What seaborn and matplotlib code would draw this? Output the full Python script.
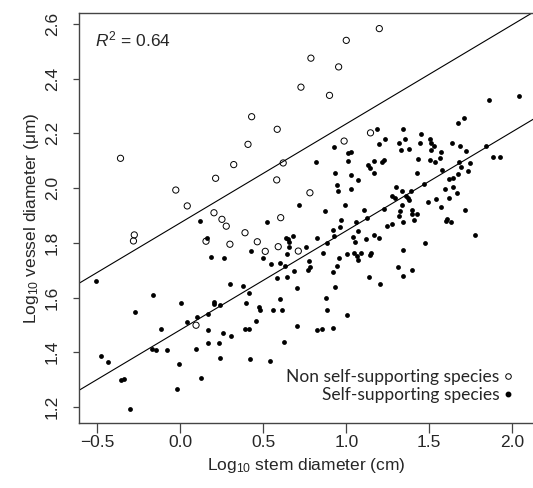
import numpy as np
import pandas as pd
import matplotlib
matplotlib.use("Agg")
import matplotlib.pyplot as plt
import seaborn as sns
from matplotlib.lines import Line2D

# --- data (log10 stem diameter, log10 vessel diameter) ---
x_nonself = [-0.360, -0.027, -0.277, -0.282, 0.213, 0.322, 0.408, 0.430, 0.584, 0.581,
             0.620, 0.727, 1.199, 1.000, 0.787, 0.954, 0.899, 1.146, 0.987, 0.781,
             0.042, 0.203, 0.251, 0.277, 0.155, 0.299, 0.390, 0.464, 0.512, 0.590,
             0.605, 0.711, 0.095]
y_nonself = [2.109, 1.993, 1.829, 1.807, 2.036, 2.086, 2.160, 2.261, 2.215, 2.030,
             2.092, 2.369, 2.583, 2.540, 2.475, 2.443, 2.339, 2.202, 2.172, 1.983,
             1.935, 1.910, 1.886, 1.861, 1.806, 1.795, 1.837, 1.804, 1.769, 1.786,
             1.892, 1.770, 1.499]

x_self = [
    # low stem diameters
    -0.510, -0.163, -0.275, -0.116, -0.478, -0.434, -0.172, -0.146, -0.078, -0.359,
    -0.339, -0.305,
    0.002, 0.203, 0.206, 0.241, 0.396, 0.476, 0.482, 0.558, 0.613, 0.039,
    0.102, 0.165, 0.169, 0.257, 0.305, 0.390, 0.414, 0.458, 0.623, 0.165,
    0.231, 0.095, -0.006, 0.237, 0.422, 0.542, 0.125, -0.022,
    0.120, 0.159, 0.524, 0.635, 0.651, 0.657, 0.655, 0.641, 0.426, 0.498,
    0.187, 0.261, 0.545, 0.602, 0.631, 0.584, 0.645, 0.301, 0.380, 0.414,
    0.601,
    # middle
    0.946, 0.952, 1.030, 1.299, 1.337, 1.388, 1.277, 1.292, 1.358, 1.370,
    1.380, 0.713, 0.994, 1.336, 0.873, 1.107, 1.229, 1.323, 1.317, 1.398,
    1.398, 0.968, 1.058, 1.123, 1.342, 1.408, 0.960, 0.922, 1.243, 1.277,
    1.072, 0.928, 1.042, 1.165, 1.199, 1.117, 0.681, 0.825, 1.052, 0.884,
    0.757, 0.861, 1.006, 1.048, 1.090, 1.149, 1.143, 1.066, 1.072, 1.340,
    0.954, 0.775, 0.942, 0.783, 0.771, 0.685, 0.922, 1.310, 1.396, 1.135,
    1.342, 0.932, 1.205, 0.701, 0.880,
    0.705, 0.822, 0.855, 0.922, 0.882, 1.006,
    # large stems
    1.595, 1.641, 1.667, 1.492, 1.542, 1.619, 1.570, 1.717, 1.428, 1.599,
    1.607, 1.633, 1.773, 1.476,
    1.860, 2.042, 1.675, 1.709, 1.185, 1.343, 0.926, 1.199, 1.231, 1.319,
    1.355, 1.448, 1.446, 1.506, 1.510, 1.530, 1.639, 1.683, 1.723, 1.842,
    1.378, 1.328, 0.816, 1.012, 1.030, 1.010, 1.131, 1.141, 1.169, 1.213,
    1.225, 1.165, 0.930, 1.028, 1.072, 1.430, 1.424, 1.508, 1.506, 1.533,
    1.563, 1.569, 1.577, 1.679, 1.693, 1.745, 1.731, 1.673, 1.645, 1.620,
    1.466, 1.886, 1.926,
]
y_self = [
    1.662, 1.610, 1.547, 1.486, 1.388, 1.364, 1.411, 1.408, 1.408, 1.299,
    1.302, 1.194,
    1.579, 1.585, 1.575, 1.574, 1.579, 1.567, 1.554, 1.556, 1.554, 1.512,
    1.530, 1.540, 1.480, 1.472, 1.461, 1.486, 1.486, 1.513, 1.438, 1.433,
    1.434, 1.412, 1.358, 1.378, 1.376, 1.368, 1.305, 1.265,
    1.881, 1.817, 1.877, 1.817, 1.814, 1.804, 1.785, 1.759, 1.771, 1.746,
    1.747, 1.745, 1.722, 1.725, 1.716, 1.673, 1.676, 1.651, 1.641, 1.616,
    1.596,
    2.012, 1.990, 1.996, 2.005, 1.991, 1.991, 1.971, 1.965, 1.972, 1.963,
    1.957, 1.937, 1.938, 1.940, 1.917, 1.921, 1.923, 1.915, 1.899, 1.920,
    1.907, 1.883, 1.877, 1.890, 1.877, 1.885, 1.859, 1.847, 1.863, 1.868,
    1.842, 1.826, 1.821, 1.829, 1.817, 1.814, 1.826, 1.817, 1.804, 1.800,
    1.785, 1.764, 1.759, 1.763, 1.762, 1.762, 1.755, 1.751, 1.737, 1.773,
    1.744, 1.734, 1.716, 1.711, 1.701, 1.697, 1.692, 1.711, 1.700, 1.675,
    1.680, 1.639, 1.649, 1.634, 1.597,
    1.497, 1.483, 1.485, 1.490, 1.554, 1.537,
    1.998, 2.003, 1.983, 1.949, 1.960, 1.963, 1.930, 1.921, 1.904, 1.880,
    1.887, 1.875, 1.828, 1.801,
    2.322, 2.338, 2.237, 2.258, 2.217, 2.215, 2.152, 2.161, 2.181, 2.164,
    2.180, 2.198, 2.166, 2.181, 2.164, 2.155, 2.166, 2.155, 2.137, 2.154,
    2.144, 2.138, 2.097, 2.127, 2.131, 2.100, 2.085, 2.075, 2.100, 2.097,
    2.103, 2.054, 2.055, 2.047, 2.030, 2.105, 2.057, 2.139, 2.104, 2.096,
    2.111, 2.131, 2.066, 2.094, 2.076, 2.093, 2.063, 2.051, 2.036, 2.032,
    2.015, 2.113, 2.115,
]

# fitted lines (common slope)
slope = 0.362
intercept_self = 1.482
intercept_nonself = 1.873
r2_text = "$R^2$ = 0.64"

labels = ["Non self-supporting species", "Self-supporting species"]

df = pd.DataFrame({
    "stem": x_nonself + x_self,
    "vessel": y_nonself + y_self,
    "group": [labels[0]] * len(x_nonself) + [labels[1]] * len(x_self),
})

sns.set_style("white")
plt.rcParams["font.family"] = ["Liberation Sans", "DejaVu Sans"]
plt.rcParams["mathtext.fontset"] = "custom"
plt.rcParams["mathtext.rm"] = "Liberation Sans"
plt.rcParams["mathtext.it"] = "Liberation Sans:italic"

fig = plt.figure(figsize=(5.33, 4.88), dpi=100)
ax = fig.add_axes([0.1473, 0.1326, 0.8546, 0.8402])

sns.scatterplot(data=df[df.group == labels[0]], x="stem", y="vessel", ax=ax,
                marker="o", s=20, facecolors="none", edgecolor="black",
                linewidth=0.7, legend=False)
sns.scatterplot(data=df[df.group == labels[1]], x="stem", y="vessel", ax=ax,
                marker="o", s=12, color="black", edgecolor="black",
                linewidth=0, legend=False)

ax.axline((0, intercept_nonself), slope=slope, color="black", lw=0.8)
ax.axline((0, intercept_self), slope=slope, color="black", lw=0.8)

ax.set_xlim(-0.613, 2.131)
ax.set_ylim(1.1406, 2.639)
ax.set_xticks([-0.5, 0.0, 0.5, 1.0, 1.5, 2.0])
ax.set_xticklabels(["\u22120.5", "0.0", "0.5", "1.0", "1.5", "2.0"])
ax.set_yticks([1.2, 1.4, 1.6, 1.8, 2.0, 2.2, 2.4, 2.6])

for sp in ax.spines.values():
    sp.set_color("#444444")
    sp.set_linewidth(1.0)
    sp.set_visible(True)

ax.tick_params(axis="x", direction="out", length=7, width=0.9, color="#444444",
               labelsize=12.5, pad=1.5, bottom=True)
ax.tick_params(axis="y", direction="out", length=4.5, width=0.9, color="#444444",
               labelsize=12.5, pad=9, left=True)
for lab in ax.get_yticklabels():
    lab.set_rotation(90)
    lab.set_va("center")

ax.set_xlabel("Log$_{10}$ stem diameter (cm)", fontsize=12.5, labelpad=4)
ax.set_ylabel("Log$_{10}$ vessel diameter (\u03bcm)", fontsize=12.5, labelpad=3)

ax.text(0.037, 0.935, r2_text, transform=ax.transAxes, fontsize=12.5,
        ha="left", va="center")

handles = [
    Line2D([], [], marker="o", linestyle="none", markerfacecolor="none",
           markeredgecolor="black", markersize=4, markeredgewidth=0.7),
    Line2D([], [], marker="o", linestyle="none", markerfacecolor="black",
           markeredgecolor="black", markersize=3.2),
]
ax.legend(handles, labels, loc="lower right", bbox_to_anchor=(0.985, 0.02),
          frameon=False, markerfirst=False, handletextpad=0.1, handlelength=0.8,
          labelspacing=0.12, borderpad=0.2,
          prop={"family": "Lato", "size": 12.5})

fig.savefig("out.png", dpi=100)
